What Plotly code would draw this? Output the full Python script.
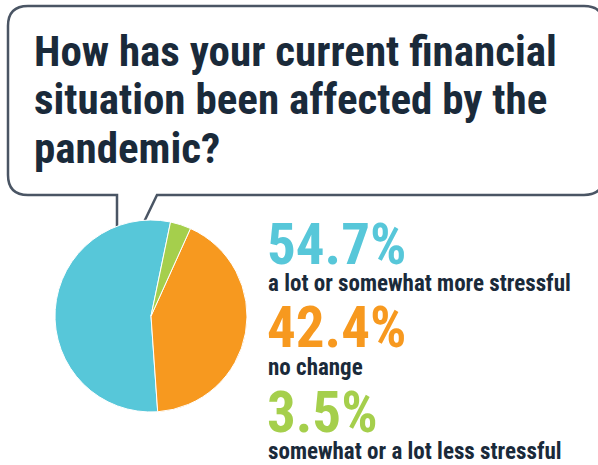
import plotly.graph_objects as go

# ---- data ----
categories = ["a lot or somewhat more stressful", "no change", "somewhat or a lot less stressful"]
values = [54.7, 42.4, 3.5]
pct_labels = ["54.7%", "42.4%", "3.5%"]
colors = ["#57C7D9", "#F7991F", "#A5CF4C"]
title_lines = ["How has your current financial",
               "situation been affected by the",
               "pandemic?"]

W, H = 598, 465
NAVY = "#1A2A3A"
FONT = "Roboto, Open Sans, sans-serif"

fig = go.Figure()

fig.add_trace(go.Pie(
    values=values,
    labels=categories,
    marker=dict(colors=colors, line=dict(color="white", width=1)),
    sort=False,
    direction="counterclockwise",
    rotation=176,
    textinfo="none",
    hoverinfo="label+percent",
    showlegend=False,
    domain=dict(x=[55 / W, 247 / W], y=[1 - 412 / H, 1 - 220 / H]),
))

# speech bubble
bubble = ("M 117,227 L 117,195 L 28,195 Q 8,195 8,175 L 8,26 Q 8,6 28,6 "
          "L 584,6 Q 604,6 604,26 L 604,175 Q 604,195 584,195 L 157,195 L 144,222")
fig.add_shape(type="path", path=bubble, xref="x", yref="y",
              line=dict(color="#4A5564", width=2.5), fillcolor="rgba(0,0,0,0)",
              layer="below")

annotations = []
title_y = [50.5, 99, 147.5]
for txt, y in zip(title_lines, title_y):
    annotations.append(dict(x=32, y=y, xref="x", yref="y", text=txt,
                            showarrow=False, xanchor="left", align="left", yanchor="middle",
                            font=dict(family=FONT, size=43, color=NAVY, weight="bold")))

pct_y = [244, 327.5, 412]
lab_y = [283.5, 367.5, 451.5]
for p, c, lab, py, ly in zip(pct_labels, colors, categories, pct_y, lab_y):
    annotations.append(dict(x=265, y=py, xref="x", yref="y", text=p,
                            showarrow=False, xanchor="left", align="left", yanchor="middle",
                            font=dict(family=FONT, size=57, color=c, weight="bold")))
    annotations.append(dict(x=266, y=ly, xref="x", yref="y", text=lab,
                            showarrow=False, xanchor="left", align="left", yanchor="middle",
                            font=dict(family=FONT, size=23, color=NAVY, weight="bold")))

fig.update_layout(
    width=W, height=H,
    margin=dict(l=0, r=0, t=0, b=0),
    paper_bgcolor="white", plot_bgcolor="white",
    xaxis=dict(range=[0, W], visible=False, fixedrange=True),
    yaxis=dict(range=[H, 0], visible=False, fixedrange=True),
    annotations=annotations,
)

# remove the page's default body margin and use the condensed face of the
# (variable) font, like the reference's narrow type
js = """
document.body.style.margin = '0';
document.querySelectorAll('.annotation-text').forEach(function(t){ t.style.fontStretch='condensed'; });
"""
fig.write_html("out.html", config={"displayModeBar": False}, post_script=js)
